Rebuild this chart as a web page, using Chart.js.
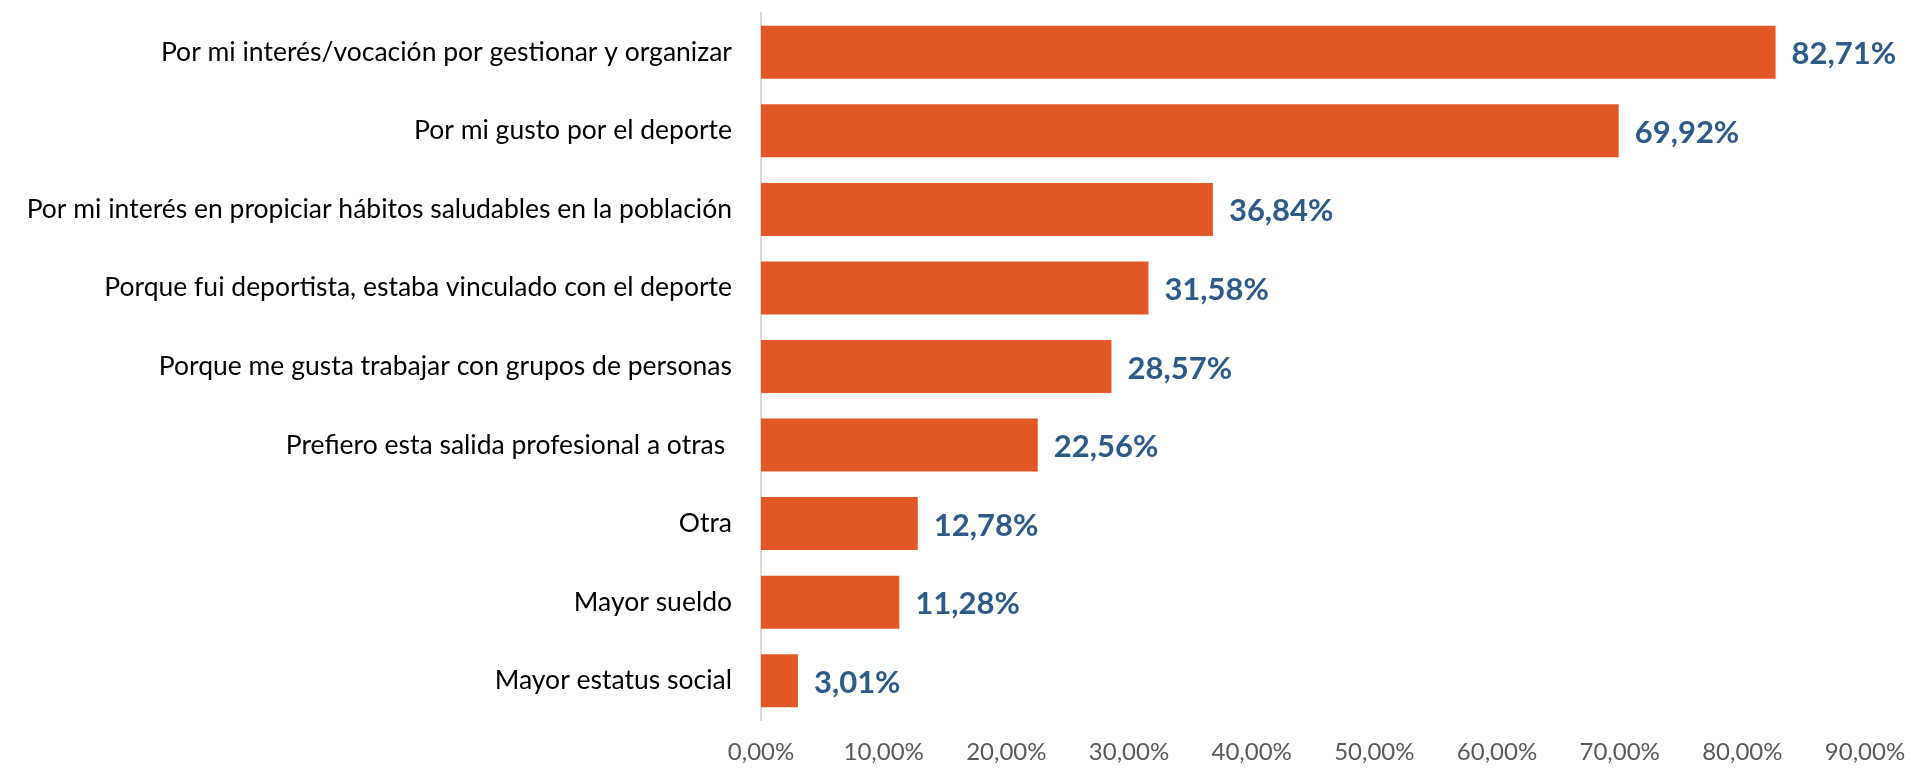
<!DOCTYPE html>
<html>
<head>
<meta charset="utf-8">
<script src="https://cdn.jsdelivr.net/npm/chart.js@4/dist/chart.umd.min.js"></script>
<style>
  html, body { margin: 0; padding: 0; background: #fff; }
  #wrap { width: 1910px; height: 770px; }
</style>
</head>
<body>
<div id="wrap"><canvas id="chart"></canvas></div>
<script>
const categories = [
  "Por mi interés/vocación por gestionar y organizar",
  "Por mi gusto por el deporte",
  "Por mi interés en propiciar hábitos saludables en la población",
  "Porque fui deportista, estaba vinculado con el deporte",
  "Porque me gusta trabajar con grupos de personas",
  "Prefiero esta salida profesional a otras ",
  "Otra",
  "Mayor sueldo",
  "Mayor estatus social"
];
const values = [82.71, 69.92, 36.84, 31.58, 28.57, 22.56, 12.78, 11.28, 3.01];
const xMin = 0;
const xMax = 90;
const xStep = 10;

const FONT = "Lato, 'Noto Sans', sans-serif";

function pct(v) {
  return v.toFixed(2).replace(".", ",") + "%";
}

// draws the value after each bar
const valueLabels = {
  id: "valueLabels",
  afterDatasetsDraw(chart) {
    const ctx = chart.ctx;
    const meta = chart.getDatasetMeta(0);
    ctx.save();
    ctx.font = "bold 31px " + FONT;
    ctx.fillStyle = "#2E5A8A";
    ctx.textAlign = "left";
    ctx.textBaseline = "middle";
    meta.data.forEach((bar, i) => {
      ctx.fillText(pct(values[i]), bar.x + 16, bar.y + 2);
    });
    ctx.restore();
  }
};

new Chart(document.getElementById("chart"), {
  type: "bar",
  data: {
    labels: categories,
    datasets: [{
      data: values,
      backgroundColor: "#E25726",
      borderWidth: 0,
      barPercentage: 0.675,
      categoryPercentage: 1
    }]
  },
  plugins: [valueLabels],
  options: {
    indexAxis: "y",
    responsive: true,
    maintainAspectRatio: false,
    animation: false,
    layout: { padding: { top: 13, right: 45, left: 0, bottom: 0 } },
    plugins: {
      legend: { display: false },
      tooltip: { enabled: false }
    },
    scales: {
      x: {
        min: xMin,
        max: xMax,
        grid: { display: false },
        border: { display: false },
        afterFit(scale) {
          scale.height = 50;
          scale.paddingLeft = 0;
          scale.paddingRight = 0;
        },
        ticks: {
          stepSize: xStep,
          padding: 10,
          color: "#595959",
          font: { family: FONT, size: 24 },
          callback: v => pct(v)
        }
      },
      y: {
        grid: { display: false },
        border: { display: true, color: "#D9D9D9", width: 2 },
        afterFit(scale) {
          scale.width = 761;
          scale.paddingTop = 0;
          scale.paddingBottom = 0;
        },
        ticks: {
          padding: 21,
          color: "#000000",
          font: { family: FONT, size: 26.5 }
        }
      }
    }
  }
});
</script>
</body>
</html>
